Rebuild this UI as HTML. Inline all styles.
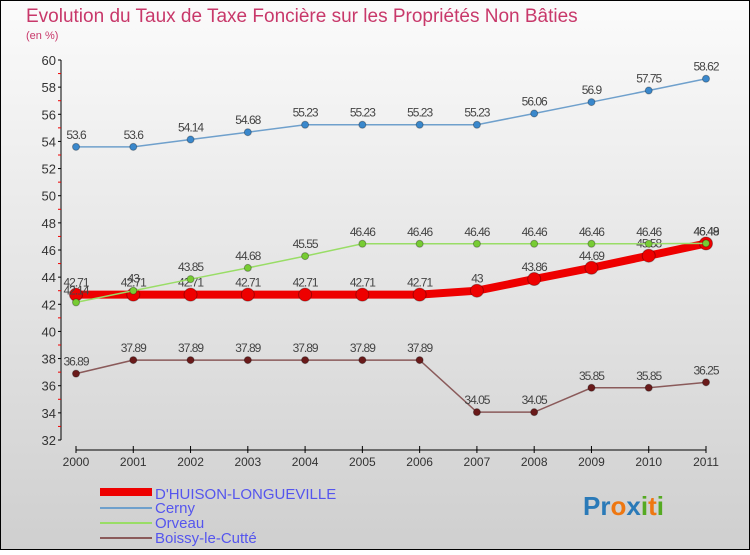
<!DOCTYPE html>
<html><head><meta charset="utf-8"><style>
body{margin:0}
svg text{font-family:"Liberation Sans",sans-serif}
</style></head><body>
<svg width="750" height="550" xmlns="http://www.w3.org/2000/svg">
<defs><linearGradient id="bg" x1="0" y1="0" x2="0" y2="1"><stop offset="0" stop-color="#fbfbfb"/><stop offset="1" stop-color="#cfcfcf"/></linearGradient></defs>
<rect x="0.5" y="0.5" width="749" height="549" fill="url(#bg)" stroke="#000"/>
<text x="26" y="22" font-size="19" fill="#c8386a">Evolution du Taux de Taxe Foncière sur les Propriétés Non Bâties</text>
<text x="26" y="39" font-size="11" fill="#c8386a">(en %)</text>
<g id="axes"></g><g id="series"></g>
<g>
<rect x="100" y="488" width="52" height="8" fill="#ee0000"/>
<text x="155" y="499" font-size="15" fill="#5555ee">D'HUISON-LONGUEVILLE</text>
<rect x="100" y="507" width="52" height="2" fill="#6fa0cc"/>
<text x="155" y="513" font-size="15" fill="#5555ee">Cerny</text>
<rect x="100" y="522" width="52" height="2" fill="#99dd66"/>
<text x="155" y="528" font-size="15" fill="#5555ee">Orveau</text>
<rect x="100" y="537" width="52" height="2" fill="#8a5a5a"/>
<text x="155" y="543" font-size="15" fill="#5555ee">Boissy-le-Cutté</text>
</g>
<text x="583" y="515" font-size="26" font-weight="bold"><tspan fill="#2a7ab8">Pr</tspan><tspan fill="#ee7711">o</tspan><tspan fill="#2a7ab8">x</tspan><tspan fill="#55aa22">i</tspan><tspan fill="#ee7711">t</tspan><tspan fill="#55aa22">i</tspan></text>
</svg>
<script>
const years=[2000,2001,2002,2003,2004,2005,2006,2007,2008,2009,2010,2011];
const yTicks=[32,34,36,38,40,42,44,46,48,50,52,54,56,58,60];
const dhuison=[42.71,42.71,42.71,42.71,42.71,42.71,42.71,43,43.86,44.69,45.58,46.48];
const cerny=[53.6,53.6,54.14,54.68,55.23,55.23,55.23,55.23,56.06,56.9,57.75,58.62];
const orveau=[42.14,43,43.85,44.68,45.55,46.46,46.46,46.46,46.46,46.46,46.46,46.49];
const boissy=[36.89,37.89,37.89,37.89,37.89,37.89,37.89,34.05,34.05,35.85,35.85,36.25];
const NS="http://www.w3.org/2000/svg";
const X=i=>76+i*(630/11);
const Y=v=>60+(60-v)*(380/28);
function mk(tag,attrs,parent){const e=document.createElementNS(NS,tag);for(const k in attrs)e.setAttribute(k,attrs[k]);parent.appendChild(e);return e;}
const ax=document.getElementById('axes');
let l=mk('line',{x1:61,y1:60,x2:61,y2:440,stroke:'#000'},ax);


yTicks.forEach(t=>{
 mk('line',{x1:58,y1:Y(t),x2:61,y2:Y(t),stroke:'#000'},ax);
 const m=mk('line',{x1:58,y1:Y(t+1),x2:61,y2:Y(t+1),stroke:'#e00'},ax);
 if(t==60)m.remove();
 const tx=mk('text',{x:56,y:Y(t)+5,'font-size':13,'text-anchor':'end',fill:'#333'},ax);
 tx.textContent=t;
 
 
});
l=mk('line',{x1:76,y1:450,x2:706,y2:450,stroke:'#000'},ax);


years.forEach((yr,i)=>{
 mk('line',{x1:X(i),y1:446,x2:X(i),y2:453,stroke:'#000'},ax);
 const tx=mk('text',{x:X(i),y:466,'font-size':12,'text-anchor':'middle',fill:'#333'},ax);
 tx.textContent=yr;
 
 
});
const sg=document.getElementById('series');
function draw(name,vals,color,w,r,dot){
 const g=mk('g',{},sg);
 
 
 const p=mk('polyline',{points:vals.map((v,i)=>X(i)+','+Y(v)).join(' '),fill:'none',stroke:color,'stroke-width':w},g);
 
 
 vals.forEach((v,i)=>{
  const c=mk('circle',{cx:X(i),cy:Y(v),r:r,fill:dot,stroke:'rgba(0,0,0,0.3)'},g);
  
  
  const t=mk('text',{x:X(i),y:Y(v)-8,'font-size':12,'text-anchor':'middle',fill:'#444','letter-spacing':'-1'},g);
  t.textContent=String(v);
  
  
 });
}
draw('boissy',boissy,'#8a5a5a',1.5,3.5,'#6a1a1a');
draw('cerny',cerny,'#6fa0cc',1.5,3.5,'#3a88cc');
draw('dhuison',dhuison,'#ee0000',8,6.5,'#ee0000');
draw('orveau',orveau,'#99dd66',1.5,3.5,'#77cc33');
</script>
</body></html>
